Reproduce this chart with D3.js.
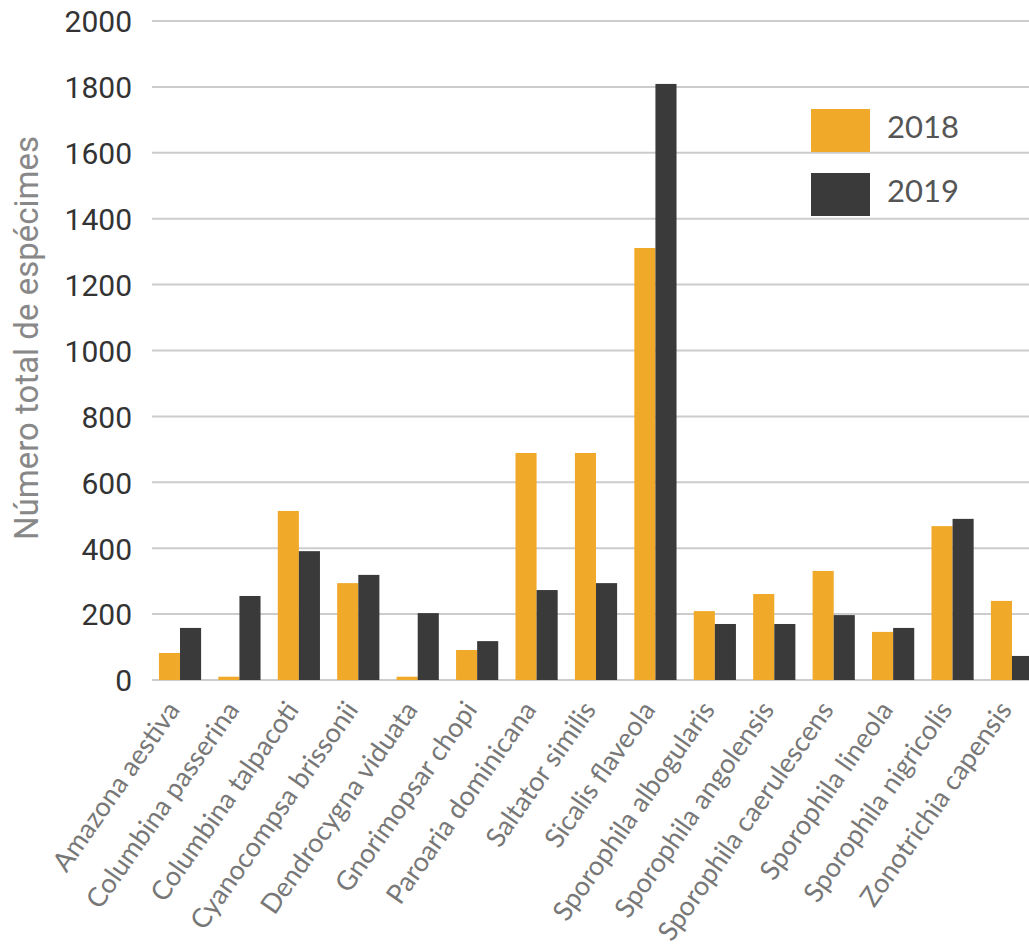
<!DOCTYPE html>
<html>
<head>
<meta charset="utf-8">
<script src="https://cdn.jsdelivr.net/npm/d3@7"></script>
<style>
  body { margin: 0; background: #fff; }
  svg { display: block; }
</style>
</head>
<body>
<svg id="chart" width="1029" height="949"></svg>
<script>
const categories = [
  "Amazona aestiva", "Columbina passerina", "Columbina talpacoti", "Cyanocompsa brissonii",
  "Dendrocygna viduata", "Gnorimopsar chopi", "Paroaria dominicana", "Saltator similis",
  "Sicalis flaveola", "Sporophila albogularis", "Sporophila angolensis", "Sporophila caerulescens",
  "Sporophila lineola", "Sporophila nigricolis", "Zonotrichia capensis"
];
const series = ["2018", "2019"];
const values2018 = [82, 10, 513, 294, 10, 91, 689, 689, 1311, 209, 261, 331, 146, 467, 240];
const values2019 = [158, 255, 391, 319, 203, 118, 273, 294, 1809, 170, 170, 197, 158, 489, 73];
const yTicks = [0, 200, 400, 600, 800, 1000, 1200, 1400, 1600, 1800, 2000];
const colors = ["#F0A928", "#3A3A3A"];

const data = categories.map((c, i) => ({ cat: c, vals: [values2018[i], values2019[i]] }));

const svg = d3.select("#chart");

const y = d3.scaleLinear().domain([0, 2000]).range([680, 21]);
const x0 = d3.scaleBand().domain(categories).range([150.3, 1041.7]).paddingInner(0.29).paddingOuter(0.145);
const x1 = d3.scaleBand().domain(series).range([0, x0.bandwidth()]);
const color = d3.scaleOrdinal().domain(series).range(colors);

// gridlines
svg.append("g").selectAll("line").data(yTicks).join("line")
  .attr("x1", 152).attr("x2", 1029)
  .attr("y1", d => y(d)).attr("y2", d => y(d))
  .attr("stroke", "#cccccc").attr("stroke-width", 2);

// y axis labels
const yAxis = d3.axisLeft(y).tickValues(yTicks).tickFormat(d3.format("d")).tickSize(0).tickPadding(0);
const gy = svg.append("g").attr("transform", "translate(132,0)").call(yAxis);
gy.select(".domain").remove();
gy.selectAll("text")
  .attr("font-family", "Roboto, 'Liberation Sans', sans-serif")
  .attr("font-size", 30)
  .attr("fill", "#333333")
  .attr("dy", "0.36em");

// bars
const groups = svg.append("g").selectAll("g").data(data).join("g")
  .attr("transform", d => `translate(${x0(d.cat)},0)`);
groups.selectAll("rect").data(d => d.vals.map((v, k) => ({ s: series[k], v }))).join("rect")
  .attr("x", d => x1(d.s))
  .attr("width", x1.bandwidth())
  .attr("y", d => y(d.v))
  .attr("height", d => y(0) - y(d.v))
  .attr("fill", d => color(d.s));

// x labels
const xAxis = d3.axisBottom(x0).tickSize(0).tickPadding(0);
const gx = svg.append("g").attr("transform", "translate(1,710)").call(xAxis);
gx.select(".domain").remove();
gx.selectAll("text")
  .attr("font-family", "Lato, 'Open Sans', sans-serif")
  .attr("font-size", 27)
  .attr("fill", "#777777")
  .attr("text-anchor", "end")
  .attr("dy", 0)
  .attr("y", 0)
  .attr("transform", "rotate(-55)");

// y title
svg.append("text")
  .attr("transform", "translate(38,338) rotate(-90)")
  .attr("text-anchor", "middle")
  .attr("font-family", "Roboto, 'Liberation Sans', sans-serif")
  .attr("font-size", 33)
  .attr("fill", "#888888")
  .text("Número total de espécimes");

// legend
const legend = svg.append("g").selectAll("g").data(series).join("g")
  .attr("transform", (d, i) => `translate(811,${109 + i * 64})`);
legend.append("rect").attr("width", 59).attr("height", 43).attr("fill", d => color(d));
legend.append("text")
  .attr("x", 76).attr("y", 29)
  .attr("font-family", "Lato, sans-serif")
  .attr("font-size", 31)
  .attr("fill", "#555555")
  .text(d => d);
</script>
</body>
</html>
